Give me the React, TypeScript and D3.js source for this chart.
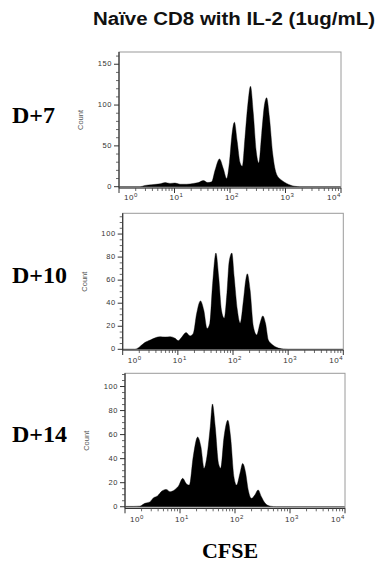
import React from "react";
import * as d3 from "d3";

// CFSE intensity and event count
const D7_CFSE = [1, 2.4, 2.95, 3.9, 5.5, 6.8, 8.3, 10.2, 12.6, 16.6, 21.9, 26.9, 33.1, 39.8, 46.8, 53.7, 64.6, 75.9, 87.1, 97.7, 107, 120, 135, 151, 166, 186, 209, 234, 263, 295, 331, 372, 417, 457, 513, 589, 692, 851, 1047, 1479, 1820, 10000];
const D7_COUNT = [0, 0, 1.5, 2.5, 3.5, 5, 4, 4.5, 3, 3, 4, 5, 7.5, 5, 6, 20, 34, 22, 10, 30, 60, 79, 55, 30, 25, 60, 100, 123, 90, 45, 29, 65, 100, 109, 85, 40, 15, 8, 4, 0.5, 0, 0];

const D10_CFSE = [1, 1.66, 2.04, 2.51, 3.16, 3.89, 4.79, 5.89, 7.24, 8.91, 10.2, 11.7, 14.1, 16.6, 19.1, 21.9, 25.7, 29.5, 33.9, 38.0, 42.7, 49.0, 55.0, 61.7, 69.2, 77.6, 85.1, 95.5, 105, 120, 135, 155, 170, 182, 204, 234, 269, 309, 347, 389, 437, 501, 617, 813, 1000, 10000];
const D10_COUNT = [0, 0, 2.3, 5.8, 8, 10, 11, 10.7, 11, 9.5, 7.5, 10.4, 14.5, 11.6, 14, 31, 42, 34, 18, 22.6, 57, 83.5, 63, 34, 27, 48.7, 76, 83.5, 63, 34, 22.6, 43, 60, 65.5, 51.6, 19.7, 12.5, 22.6, 29, 22.6, 8, 4.6, 1.7, 0.3, 0, 0];

const D14_CFSE = [1, 1.41, 1.86, 2.29, 2.82, 3.31, 3.89, 4.68, 5.62, 6.61, 8.13, 9.33, 11.2, 12.9, 14.8, 17.4, 20.9, 24.0, 27.5, 30.2, 35.5, 38.9, 43.7, 50.1, 55.0, 63.1, 74.1, 83.2, 95.5, 107, 123, 138, 155, 174, 200, 229, 263, 302, 355, 437, 575, 10000];
const D14_COUNT = [0.3, 0.3, 0.5, 2.8, 4, 7.5, 9, 13, 14.4, 12.5, 14.4, 17, 23.6, 19.4, 18, 41.7, 58, 50, 32, 39, 66.7, 85.5, 66.7, 36, 32, 58, 72, 58, 25, 18, 27.8, 36, 29, 14, 7, 9.7, 14, 8.3, 2.8, 0.5, 0, 0];

const DAY_LABELS = ["D+7", "D+10", "D+14"];
const D7_YTICKS = [0, 50, 100, 150];
const D10_YTICKS = [0, 20, 40, 60, 80, 100];
const D14_YTICKS = [0, 20, 40, 60, 80, 100];
const X_TICKS = [1, 10, 100, 1000, 10000];
const TITLE = "Naïve CD8 with IL-2 (1ug/mL)";
const X_TITLE = "CFSE";

const WIDTH = 382;
const HEIGHT = 572;
const TICK_FONT = "Arial, 'Liberation Sans', sans-serif";

interface PanelProps {
  box: { left: number; right: number; top: number; bottom: number };
  yDomain: [number, number];
  yTicks: number[];
  yMinorStep: number;
  cfse: number[];
  count: number[];
  label: string;
  labelY: number;
  xLabelGap: number;
}

const Panel: React.FC<PanelProps> = ({
  box,
  yDomain,
  yTicks,
  yMinorStep,
  cfse,
  count,
  label,
  labelY,
  xLabelGap,
}) => {
  const xScale = d3.scaleLog().domain([1, 10000]).range([box.left, box.right]);
  const yScale = d3.scaleLinear().domain(yDomain).range([box.bottom, box.top]);

  const points = cfse.map((c, i) => [c, count[i]] as [number, number]);
  const area = d3
    .area<[number, number]>()
    .x((d) => xScale(d[0]))
    .y0(yScale(0))
    .y1((d) => yScale(d[1]))
    .curve(d3.curveMonotoneX);

  const minorX = xScale.ticks().filter((t) => !X_TICKS.includes(t));
  const minorY = d3
    .range(0, yDomain[1], yMinorStep)
    .filter((v) => !yTicks.includes(v));

  const midY = (box.top + box.bottom) / 2;

  return (
    <g>
      <path d={area(points) ?? ""} fill="#000" stroke="#000" strokeWidth={0.4} />
      {/* frame */}
      <rect
        x={box.left}
        y={box.top}
        width={box.right - box.left}
        height={box.bottom - box.top}
        fill="none"
        stroke="#9a9a9a"
        strokeWidth={1}
      />
      <line x1={box.left} x2={box.left} y1={box.top} y2={box.bottom} stroke="#333" strokeWidth={1.2} />
      <line x1={box.left} x2={box.right} y1={box.bottom} y2={box.bottom} stroke="#333" strokeWidth={1.2} />

      {/* y ticks */}
      {minorY.map((v) => (
        <line key={"my" + v} x1={box.left - 3} x2={box.left} y1={yScale(v)} y2={yScale(v)} stroke="#444" strokeWidth={0.8} />
      ))}
      {yTicks.map((v) => (
        <g key={"y" + v}>
          <line x1={box.left - 5} x2={box.left} y1={yScale(v)} y2={yScale(v)} stroke="#333" strokeWidth={1} />
          <text
            x={box.left - 7}
            y={yScale(v)}
            textAnchor="end"
            dominantBaseline="middle"
            fontSize={7.5}
            letterSpacing={0.6}
            fontFamily={TICK_FONT}
            fill="#333"
          >
            {v}
          </text>
        </g>
      ))}

      {/* x ticks */}
      {minorX.map((t) => (
        <line key={"mx" + t} x1={xScale(t)} x2={xScale(t)} y1={box.bottom} y2={box.bottom + 3} stroke="#444" strokeWidth={0.8} />
      ))}
      {X_TICKS.map((t, i) => {
        const x = xScale(t);
        const anchor = i === 0 ? "start" : i === X_TICKS.length - 1 ? "end" : "middle";
        const tx = i === 0 ? x + 5 : i === X_TICKS.length - 1 ? x : x + 2;
        return (
          <g key={"x" + t}>
            <line x1={x} x2={x} y1={box.bottom} y2={box.bottom + 5} stroke="#333" strokeWidth={1} />
            <text
              x={tx}
              y={box.bottom + xLabelGap}
              textAnchor={anchor}
              fontSize={8}
              letterSpacing={0.6}
              fontFamily={TICK_FONT}
              fill="#333"
            >
              10
              <tspan dy={-3} fontSize={6}>
                {Math.round(Math.log10(t))}
              </tspan>
            </text>
          </g>
        );
      })}

      <text
        transform={`translate(${box.left - 37.5},${midY}) rotate(-90)`}
        textAnchor="middle"
        dominantBaseline="middle"
        fontSize={7.5}
        fontFamily="'Liberation Sans Narrow', Arial, sans-serif"
        fill="#555"
      >
        Count
      </text>

      <text
        x={12}
        y={labelY}
        fontSize={24}
        fontWeight="bold"
        fontFamily="'Liberation Serif', 'Times New Roman', serif"
        fill="#000"
      >
        {label}
      </text>
    </g>
  );
};

export default function App() {
  return (
    <svg
      width={WIDTH}
      height={HEIGHT}
      style={{ position: "absolute", left: 0, top: 0, background: "#fff" }}
    >
      <rect width={WIDTH} height={HEIGHT} fill="#fff" />
      <text
        x={234}
        y={25}
        textAnchor="middle"
        fontSize={18}
        fontWeight="bold"
        fontFamily="'Liberation Sans', Arial, sans-serif"
        textLength={282}
        lengthAdjust="spacingAndGlyphs"
        fill="#111"
      >
        {TITLE}
      </text>

      <Panel
        box={{ left: 119, right: 341, top: 52, bottom: 188 }}
        yDomain={[-1.6, 165]}
        yTicks={D7_YTICKS}
        yMinorStep={10}
        cfse={D7_CFSE}
        count={D7_COUNT}
        label={DAY_LABELS[0]}
        labelY={123}
        xLabelGap={12}
      />
      <Panel
        box={{ left: 122.7, right: 343.3, top: 213.3, bottom: 350 }}
        yDomain={[-0.6, 118]}
        yTicks={D10_YTICKS}
        yMinorStep={5}
        cfse={D10_CFSE}
        count={D10_COUNT}
        label={DAY_LABELS[1]}
        labelY={283}
        xLabelGap={13}
      />
      <Panel
        box={{ left: 125, right: 345, top: 373.3, bottom: 508.3 }}
        yDomain={[-1.3, 111]}
        yTicks={D14_YTICKS}
        yMinorStep={5}
        cfse={D14_CFSE}
        count={D14_COUNT}
        label={DAY_LABELS[2]}
        labelY={442}
        xLabelGap={14}
      />

      <text
        x={230}
        y={558}
        textAnchor="middle"
        fontSize={22}
        fontWeight="bold"
        fontFamily="'Liberation Serif', 'Times New Roman', serif"
        fill="#000"
      >
        {X_TITLE}
      </text>
    </svg>
  );
}
